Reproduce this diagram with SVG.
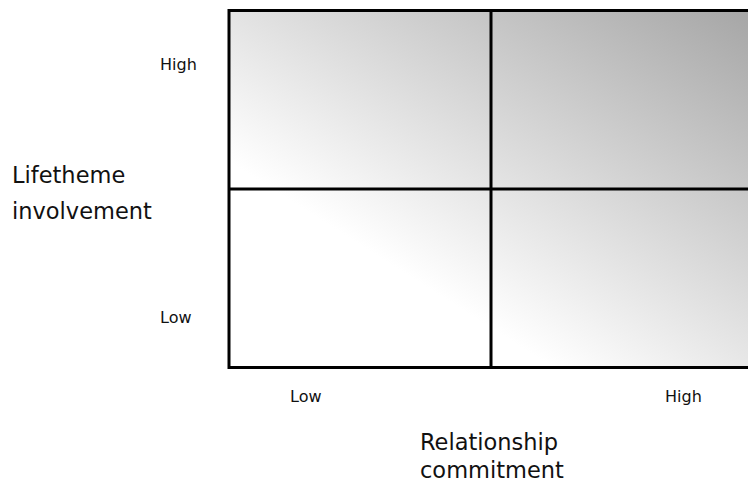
<svg xmlns="http://www.w3.org/2000/svg" width="748" height="484" viewBox="0 0 748 484">
  <style>
    .grid { fill: none; stroke: #000; stroke-width: 3; }
    .lbl { font-family: "DejaVu Sans", "Verdana", sans-serif; fill: #111; }
    .tick { font-size: 16px; }
    .axis { font-size: 22.5px; }
  </style>
  <defs>
    <!-- single diagonal shading across the whole matrix: white at lower left, grey at upper right -->
    <linearGradient id="shade" gradientUnits="userSpaceOnUse" x1="530" y1="353" x2="748" y2="10">
      <stop offset="0" stop-color="#ffffff"/>
      <stop offset="1" stop-color="#a6a6a6"/>
    </linearGradient>
  </defs>

  <rect id="background" x="0" y="0" width="748" height="484" fill="#ffffff"/>

  <!-- 2x2 matrix -->
  <g id="matrix">
    <rect x="229" y="10.5" width="524" height="357" fill="url(#shade)"/>
    <rect class="grid" x="229" y="10.5" width="524" height="357"/>
    <line class="grid" x1="491" y1="10.5" x2="491" y2="367.5"/>
    <line class="grid" x1="229" y1="189" x2="753" y2="189"/>
  </g>

  <!-- vertical axis -->
  <g id="y-axis">
    <text class="lbl tick" x="160" y="70">High</text>
    <text class="lbl tick" x="160" y="322.5">Low</text>
    <text class="lbl axis" x="12" y="182.5">Lifetheme</text>
    <text class="lbl axis" x="12" y="218.5">involvement</text>
  </g>

  <!-- horizontal axis -->
  <g id="x-axis">
    <text class="lbl tick" x="290" y="402">Low</text>
    <text class="lbl tick" x="665" y="402">High</text>
    <text class="lbl axis" x="420" y="450">Relationship</text>
    <text class="lbl axis" x="420" y="478">commitment</text>
  </g>
</svg>
